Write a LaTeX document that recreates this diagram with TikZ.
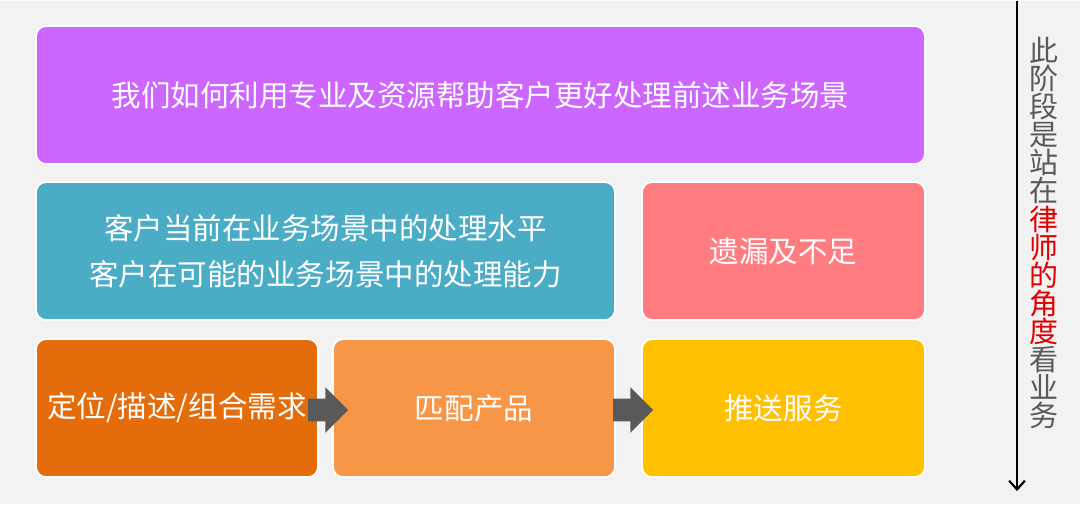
\documentclass[tikz,border=0pt]{standalone}
\usepackage{fontspec}
\newfontfamily\cjk{Noto Sans CJK SC}
\usepackage{tikz}
\usetikzlibrary{arrows,arrows.meta,calc,shapes.arrows}
\definecolor{bggray}{HTML}{F2F2F2}
\definecolor{boxpurple}{HTML}{CC66FF}
\definecolor{boxteal}{HTML}{4BACC6}
\definecolor{boxpink}{HTML}{FF7C80}
\definecolor{boxdarkorange}{HTML}{E46C0A}
\definecolor{boxorange}{HTML}{F79646}
\definecolor{boxyellow}{HTML}{FFC000}
\definecolor{arrowgray}{HTML}{595959}
\definecolor{lawred}{HTML}{E00000}
\begin{document}
\begin{tikzpicture}[x=0.02cm,y=-0.02cm,
  card/.style={draw=white,line width=1pt,rounded corners=0.2cm,minimum height=2.76cm,
    text=white,align=center,font=\cjk\fontsize{16.8}{26}\selectfont},
  blockarrow/.style={single arrow,fill=arrowgray,inner xsep=0pt,inner ysep=0.22cm,
    minimum height=0.8cm,single arrow head extend=0.23cm}]
\fill[bggray] (0,0) rectangle (1080,503);
\node[card,fill=boxpurple,minimum width=17.78cm] (scene) at (480.5,94) {我们如何利用专业及资源帮助客户更好处理前述业务场景};
\node[card,fill=boxteal,minimum width=11.58cm] (level) at (325.5,250) {客户当前在业务场景中的处理水平\\客户在可能的业务场景中的处理能力};
\node[card,fill=boxpink,minimum width=5.66cm] (gap) at (783.5,250) {遗漏及不足};
\node[card,fill=boxdarkorange,minimum width=5.64cm] (need) at (177,407) {定位/描述/组合需求};
\node[card,fill=boxorange,minimum width=5.64cm] (match) at (474,407) {匹配产品};
\node[card,fill=boxyellow,minimum width=5.66cm] (push) at (783.5,407) {推送服务};
\node[blockarrow] (a1) at ($(need.east)!0.5!(match.west)+(-3,2)$) {};
\node[blockarrow] (a2) at ($(match.east)!0.5!(push.west)+(-1,2)$) {};
\coordinate (top) at (1017,0);
\coordinate (bottom) at (1017,490);
\draw[-{Straight Barb[length=5pt,width=9pt,line width=1.2pt]},line width=1.2pt] (top) -- (bottom);
\node[text=arrowgray,align=center,font=\cjk\fontsize{16.5}{16}\selectfont] (view) at (1044,232)
  {此\\阶\\段\\是\\站\\在\\\textcolor{lawred}{律}\\\textcolor{lawred}{师}\\\textcolor{lawred}{的}\\\textcolor{lawred}{角}\\\textcolor{lawred}{度}\\看\\业\\务};
\end{tikzpicture}
\end{document}
